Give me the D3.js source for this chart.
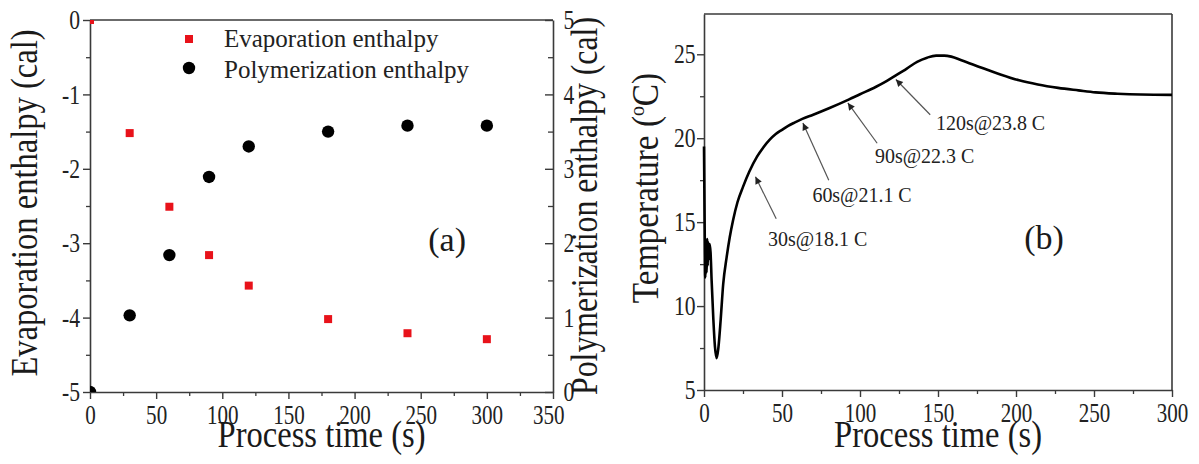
<!DOCTYPE html>
<html><head><meta charset="utf-8">
<script src="https://cdn.jsdelivr.net/npm/d3@7"></script>
<style>body{margin:0;background:#fff}svg{display:block}</style>
</head><body>
<svg id="c" width="1199" height="464"></svg>
<script>
// ---------- data: panel (a) ----------
const sampleTimes = [0, 30, 60, 90, 120, 180, 240, 300];
const evaporationEnthalpy = [0, -1.52, -2.51, -3.16, -3.57, -4.02, -4.21, -4.29];
const polymerizationEnthalpy = [0, 1.03, 1.84, 2.89, 3.30, 3.50, 3.58, 3.58];
const xTicksA = [0, 50, 100, 150, 200, 250, 300, 350];
const yTicksLeftA = [0, -1, -2, -3, -4, -5];
const yTicksRightA = [0, 1, 2, 3, 4, 5];
const legendLabels = ["Evaporation enthalpy", "Polymerization enthalpy"];

// ---------- data: panel (b) ----------
const curveTime = [0, 0.4, 0.8, 1.2, 1.6, 2.0, 2.4, 2.8, 3.2, 3.6, 4.2, 4.9, 6.0, 7.0, 8.1, 9.2, 10.7, 12.3, 14.5, 16.5, 18.6, 21.5, 25, 29, 34, 38, 42, 46, 50, 53.7, 58, 63, 70, 80.5, 92.7, 100, 110, 117, 124, 130, 136.6, 143, 148.8, 154, 158.5, 165, 178, 190, 202, 214, 227, 240, 251, 265, 280, 300];
const curveTemp = [19.5, 15.0, 11.7, 13.9, 12.0, 14.0, 12.4, 13.8, 12.8, 13.7, 13.2, 11.5, 9.2, 7.6, 6.9, 7.5, 9.2, 11.3, 12.9, 14.1, 15.1, 16.2, 17.1, 18.0, 18.9, 19.45, 19.9, 20.25, 20.5, 20.72, 20.93, 21.15, 21.4, 21.8, 22.3, 22.62, 23.05, 23.4, 23.8, 24.15, 24.55, 24.8, 24.92, 24.92, 24.86, 24.65, 24.2, 23.8, 23.45, 23.2, 23.0, 22.85, 22.73, 22.65, 22.6, 22.58];
const xTicksB = [0, 50, 100, 150, 200, 250, 300];
const yTicksB = [5, 10, 15, 20, 25];
const annotLabels = ["30s@18.1 C", "60s@21.1 C", "90s@22.3 C", "120s@23.8 C"];
const annotTipT = [33, 63.4, 92.2, 123];
const annotTipV = [17.7, 20.9, 22.1, 23.5];
const annotTailT = [46.3, 80, 111, 145];
const annotTailV = [15.2, 17.5, 19.7, 21.4];
const annotTextT = [41, 69.5, 109.6, 148.7];
const annotTextV = [13.6, 16.2, 18.5, 20.5];

const FONT = "'Liberation Serif','Times New Roman',Times,serif";
const AX = "#3a3a3a";
const svg = d3.select("#c");

function styleAxis(g, sx) {
  g.select(".domain").attr("stroke", AX).attr("stroke-width", 1.6);
  g.selectAll(".tick line").attr("stroke", AX).attr("stroke-width", 1.4);
  g.selectAll(".tick text").attr("fill", "#222").attr("font-family", FONT).attr("font-size", 27)
    .attr("transform", `scale(${sx},1)`);
}
function minor(g) {
  g.select(".domain").remove();
  g.selectAll(".tick line").attr("stroke", AX).attr("stroke-width", 1.3);
  g.selectAll(".tick text").remove();
}
function title(x, y, text, rot, size, sx) {
  return svg.append("text").attr("font-family", FONT).attr("font-size", size).attr("fill", "#1a1a1a")
    .attr("text-anchor", "middle")
    .attr("transform", `translate(${x},${y}) rotate(${rot}) scale(${sx},1)`).text(text);
}

// ================= Panel (a) =================
const A = {l: 90, r: 553, t: 20, b: 392};
const xA = d3.scaleLinear().domain([0, 350]).range([A.l, A.r]);
const yAL = d3.scaleLinear().domain([-5, 0]).range([A.b, A.t]);
const yAR = d3.scaleLinear().domain([0, 5]).range([A.b, A.t]);
const fmt = d => String(d);

svg.append("defs").append("clipPath").attr("id", "clipA").append("rect")
  .attr("x", A.l).attr("y", A.t).attr("width", A.r - A.l).attr("height", A.b - A.t);

// minor ticks
svg.append("g").attr("transform", `translate(0,${A.b})`)
  .call(d3.axisBottom(xA).tickValues(d3.range(25, 350, 50)).tickSize(4)).call(minor);
svg.append("g").attr("transform", `translate(${A.l},0)`)
  .call(d3.axisLeft(yAL).tickValues(d3.range(-4.5, 0, 1)).tickSize(4)).call(minor);
svg.append("g").attr("transform", `translate(${A.r},0)`)
  .call(d3.axisRight(yAR).tickValues(d3.range(0.5, 5, 1)).tickSize(-5)).call(minor);
// major axes
svg.append("g").attr("transform", `translate(0,${A.b})`)
  .call(d3.axisBottom(xA).tickValues(xTicksA).tickFormat(fmt).tickSize(7).tickSizeOuter(0).tickPadding(6))
  .call(g => styleAxis(g, 0.78))
  .call(g => g.selectAll(".tick text").filter(d => d === 350).attr("dx", -6));
svg.append("g").attr("transform", `translate(${A.l},0)`)
  .call(d3.axisLeft(yAL).tickValues(yTicksLeftA).tickFormat(fmt).tickSize(7).tickSizeOuter(0).tickPadding(5.5))
  .call(g => styleAxis(g, 0.8));
svg.append("g").attr("transform", `translate(${A.r},0)`)
  .call(d3.axisRight(yAR).tickValues(yTicksRightA).tickFormat(fmt).tickSize(-8).tickSizeOuter(0).tickPadding(13))
  .call(g => styleAxis(g, 0.8));
svg.append("line").attr("x1", A.l).attr("x2", A.r).attr("y1", A.t).attr("y2", A.t)
  .attr("stroke", AX).attr("stroke-width", 1.6);

const gA = svg.append("g").attr("clip-path", "url(#clipA)");
const SQ = 8;
gA.selectAll("rect.ev").data(sampleTimes).join("rect").attr("class", "ev")
  .attr("x", (d) => xA(d) - SQ / 2).attr("y", (d, i) => yAL(evaporationEnthalpy[i]) - SQ / 2)
  .attr("width", SQ).attr("height", SQ).attr("fill", "#e8121a");
gA.selectAll("circle.po").data(sampleTimes).join("circle").attr("class", "po")
  .attr("cx", d => xA(d)).attr("cy", (d, i) => yAR(polymerizationEnthalpy[i]))
  .attr("r", 6.2).attr("fill", "#000");

// legend
const leg = svg.append("g");
leg.append("rect").attr("x", 189 - SQ / 2).attr("y", 39 - SQ / 2).attr("width", SQ).attr("height", SQ).attr("fill", "#e8121a");
leg.append("circle").attr("cx", 189).attr("cy", 68).attr("r", 6.2).attr("fill", "#000");
legendLabels.forEach((t, i) => {
  leg.append("text").attr("font-family", FONT).attr("font-size", 25).attr("fill", "#222")
    .attr("transform", `translate(224,${47 + i * 31})`).text(t);
});
svg.append("text").attr("font-family", FONT).attr("font-size", 34).attr("fill", "#1a1a1a")
  .attr("text-anchor", "middle").attr("x", xA(270)).attr("y", yAL(-3.1)).text("(a)");

title(37, 203, "Evaporation enthalpy (cal)", -90, 37, 0.88);
title(597, 206, "Polymerization enthalpy (cal)", -90, 37, 0.86);
title((A.l + A.r) / 2, 447, "Process time (s)", 0, 37, 0.88);

// ================= Panel (b) =================
const B = {l: 704, r: 1172, t: 14, b: 390};
const xB = d3.scaleLinear().domain([0, 300]).range([B.l, B.r]);
const yB = d3.scaleLinear().domain([5, 27.4]).range([B.b, B.t]);

svg.append("g").attr("transform", `translate(0,${B.b})`)
  .call(d3.axisBottom(xB).tickValues(d3.range(25, 300, 50)).tickSize(4)).call(minor);
svg.append("g").attr("transform", `translate(${B.l},0)`)
  .call(d3.axisLeft(yB).tickValues([7.5, 12.5, 17.5, 22.5]).tickSize(4)).call(minor);
svg.append("g").attr("transform", `translate(0,${B.b})`)
  .call(d3.axisBottom(xB).tickValues(xTicksB).tickFormat(fmt).tickSize(7).tickSizeOuter(0).tickPadding(6))
  .call(g => styleAxis(g, 0.78));
svg.append("g").attr("transform", `translate(${B.l},0)`)
  .call(d3.axisLeft(yB).tickValues(yTicksB).tickFormat(fmt).tickSize(7).tickSizeOuter(0).tickPadding(3.5))
  .call(g => styleAxis(g, 0.8));
svg.append("line").attr("x1", B.l).attr("x2", B.r).attr("y1", B.t).attr("y2", B.t).attr("stroke", AX).attr("stroke-width", 1.6);
svg.append("line").attr("x1", B.r).attr("x2", B.r).attr("y1", B.t).attr("y2", B.b).attr("stroke", AX).attr("stroke-width", 1.6);

const line = d3.line().x(d => xB(d[0])).y(d => yB(d[1])).curve(d3.curveMonotoneX);
svg.append("path").datum(curveTime.map((t, i) => [t, curveTemp[i]]))
  .attr("d", line).attr("fill", "none").attr("stroke", "#000").attr("stroke-width", 2.6)
  .attr("stroke-linejoin", "round");

svg.select("defs").append("marker").attr("id", "arr").attr("viewBox", "0 0 10 10")
  .attr("refX", 10).attr("refY", 5).attr("markerWidth", 9).attr("markerHeight", 7)
  .attr("markerUnits", "userSpaceOnUse").attr("orient", "auto")
  .append("path").attr("d", "M0,0 L10,5 L0,10 z").attr("fill", "#222");

annotLabels.forEach((lab, i) => {
  svg.append("line").attr("x1", xB(annotTailT[i])).attr("y1", yB(annotTailV[i]))
    .attr("x2", xB(annotTipT[i])).attr("y2", yB(annotTipV[i]))
    .attr("stroke", "#555").attr("stroke-width", 1.2).attr("marker-end", "url(#arr)");
  svg.append("text").attr("font-family", FONT).attr("font-size", 21).attr("fill", "#222")
    .attr("transform", `translate(${xB(annotTextT[i])},${yB(annotTextV[i])}) scale(0.95,1)`).text(lab);
});
svg.append("text").attr("font-family", FONT).attr("font-size", 34).attr("fill", "#1a1a1a")
  .attr("text-anchor", "middle").attr("x", xB(218)).attr("y", yB(13.4)).text("(b)");

const tt = svg.append("text").attr("font-family", FONT).attr("font-size", 37).attr("fill", "#1a1a1a")
  .attr("text-anchor", "middle").attr("transform", "translate(658,188) rotate(-90) scale(0.9,1)");
tt.append("tspan").text("Temperature (");
tt.append("tspan").attr("font-size", 22).attr("dy", -14).text("o");
tt.append("tspan").attr("dy", 14).text("C)");
title((B.l + B.r) / 2, 447, "Process time (s)", 0, 37, 0.88);
</script>
</body></html>
